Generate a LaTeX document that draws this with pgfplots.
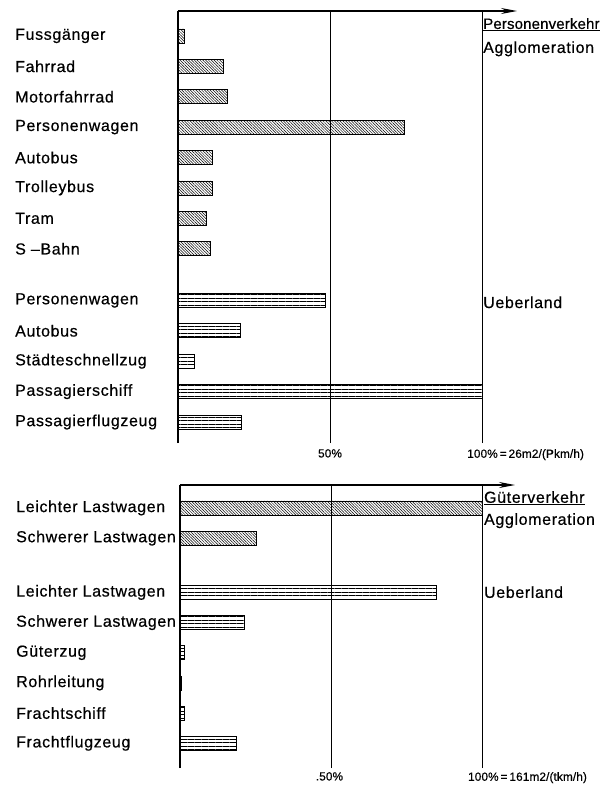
\documentclass[border=0pt]{standalone}
\usepackage{fontspec}
\setmainfont{Liberation Sans}
\newfontfamily\spaced[LetterSpace=4,FakeBold=0.5]{Liberation Sans}
\newfontfamily\spacedb[LetterSpace=1,FakeBold=0.5]{Liberation Sans}
\usepackage{pgfplots}
\pgfplotsset{compat=1.18}
\usetikzlibrary{patterns.meta, arrows.meta}
\newcommand\myLabFont{\spaced\fontsize{16}{19}\selectfont}
\newcommand\myRightFont{\spaced\fontsize{16}{19}\selectfont}
\newcommand\myHeadFont{\spacedb\fontsize{15}{17}\selectfont}
\newcommand\myTickFont{\spacedb\fontsize{11.8}{14}\selectfont}
\begin{document}
\begin{tikzpicture}
\useasboundingbox (0,0) rectangle (603pt,-785pt);
\pgfplotsset{
  common/.style={
    scale only axis, anchor=north west,
    axis x line=top, axis y line=left,
    axis line style={line width=1.1pt},
    x axis line style={-{Stealth[length=16pt,width=6pt]}},
    y axis line style={-},
    xmin=0,
    xtick={50,100}, xticklabels={},
    xmajorgrids, grid style={black, line width=0.9pt},
    major tick length=0pt,
    yticklabel style={anchor=west, inner sep=0pt, font=\myLabFont},
    xbar, bar shift=0pt, bar width=14pt,
    clip=false,
  },
  agg/.style={draw=black, line width=0.8pt, pattern={Lines[angle=-45,distance=2pt,line width=0.5pt]}},
  ueb/.style={draw=black, line width=0.8pt, pattern={Lines[angle=0,distance=3.5pt,line width=1pt]}},
}
% ---------- top panel ----------
\begin{axis}[common,
  at={(178pt,-11pt)}, width=339pt, height=432pt,
  xmax=111.5, ymin=-13.39, ymax=0.82,
  ytick={0,-1,-2,-3,-4,-5,-6,-7,-8.7,-9.7,-10.7,-11.7,-12.7},
  yticklabels={Fussgänger,Fahrrad,Motorfahrrad,Personenwagen,Autobus,Trolleybus,Tram,S –Bahn,Personenwagen,Autobus,Städteschnellzug,Passagierschiff,Passagierflugzeug},
  yticklabel style={xshift=-163pt},
]
\addplot[agg] coordinates {(2,0) (14.8,-1) (16.4,-2) (74.3,-3) (11.2,-4) (11.2,-5) (9.2,-6) (10.5,-7)};
\addplot[ueb] coordinates {(48.4,-8.7) (20.4,-9.7) (5.3,-10.7) (100,-11.7) (20.7,-12.7)};
\node[anchor=base west, inner sep=0pt, font=\myHeadFont] at (axis cs:100,0.23) {\hspace{1pt}\underline{Personenverkehr}};
\node[anchor=base west, inner sep=0pt, font=\myRightFont] at (axis cs:100,-0.56) {\hspace{1pt}Agglomeration};
\node[anchor=base west, inner sep=0pt, font=\myRightFont] at (axis cs:100,-8.95) {\hspace{1pt}Ueberland};
\node[anchor=north, inner sep=0pt, font=\myTickFont] at (axis cs:50,-13.39) [yshift=-6pt] {50\%};
\node[anchor=north west, inner sep=0pt, font=\myTickFont] at (axis cs:100,-13.39) [yshift=-6pt, xshift=-15pt] {100\%\,=\,26m2/(Pkm/h)};
\end{axis}
% ---------- bottom panel ----------
\begin{axis}[common,
  at={(180pt,-485pt)}, width=335pt, height=283pt,
  xmax=110.6, ymin=-8.62, ymax=0.76,
  ytick={0,-1,-2.8,-3.8,-4.8,-5.8,-6.8,-7.8},
  yticklabels={Leichter Lastwagen,Schwerer Lastwagen,Leichter Lastwagen,Schwerer Lastwagen,Güterzug,Rohrleitung,Frachtschiff,Frachtflugzeug},
  yticklabel style={xshift=-164pt},
]
\addplot[agg] coordinates {(100,0) (25.1,-1)};
\addplot[ueb] coordinates {(84.5,-2.8) (21.1,-3.8) (1.3,-4.8) (0.5,-5.8) (1.3,-6.8) (18.5,-7.8)};
\node[anchor=base west, inner sep=0pt, font=\myRightFont] at (axis cs:100,0.17) {\hspace{1pt}\underline{Güterverkehr}};
\node[anchor=base west, inner sep=0pt, font=\myRightFont] at (axis cs:100,-0.56) {\hspace{1pt}Agglomeration};
\node[anchor=base west, inner sep=0pt, font=\myRightFont] at (axis cs:100,-2.98) {\hspace{1pt}Ueberland};
\node[anchor=north, inner sep=0pt, font=\myTickFont] at (axis cs:50,-8.62) [yshift=-4pt, xshift=-2pt] {.50\%};
\node[anchor=north west, inner sep=0pt, font=\myTickFont] at (axis cs:100,-8.62) [yshift=-4pt, xshift=-15pt] {100\%\,=\,161m2/(tkm/h)};
\end{axis}
\end{tikzpicture}
\end{document}
